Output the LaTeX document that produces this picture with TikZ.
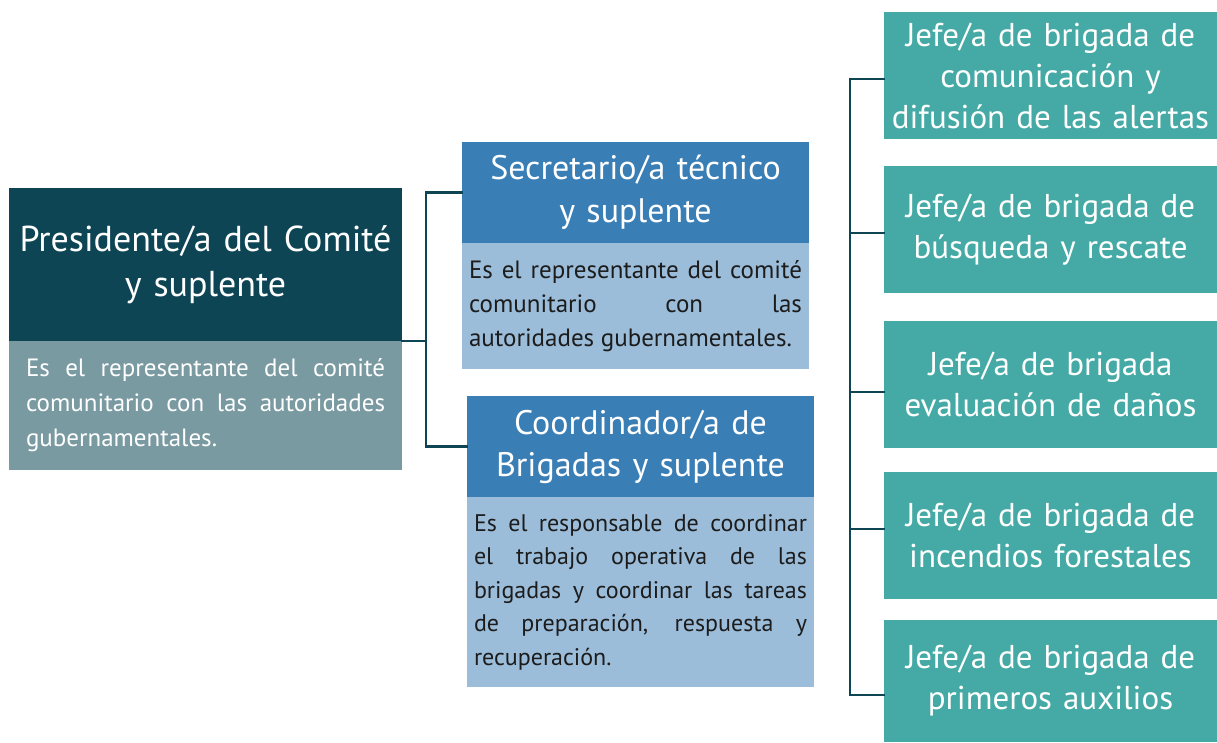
\documentclass[tikz,border=0pt]{standalone}
\usepackage{fontspec}
\setmainfont{PT Sans}
\definecolor{darkteal}{HTML}{0E4555}
\definecolor{greyteal}{HTML}{7A9AA2}
\definecolor{hblue}{HTML}{3A7EB6}
\definecolor{lblue}{HTML}{9BBDDA}
\definecolor{jteal}{HTML}{45AAA5}
\definecolor{btext}{HTML}{1C1C1C}
\begin{document}
\begin{tikzpicture}[x=1pt,y=-1pt,
  box/.style={anchor=north west, inner sep=0pt, outer sep=0pt},
  hdr/.style={box, text=white, align=center},
  jbox/.style={box, fill=jteal, text=white, align=center, minimum width=333pt, text width=327pt, font=\fontsize{33}{41}\selectfont},
  bdy/.style={box, align=justify, execute at begin node={\hyphenpenalty=10000\tolerance=10000\hbadness=10000\hfuzz=20pt}},
  conn/.style={draw=darkteal, line width=2.5pt, line cap=rect, line join=miter}]
\fill[white] (0,0) rectangle (1217,742);
\useasboundingbox (0,0) rectangle (1217,742);
% President
\node[hdr, fill=darkteal, minimum width=393pt, text width=389pt, minimum height=153pt, font=\fontsize{36}{45}\selectfont] (pres) at (9,188) {Presidente/a del Comité\\y suplente};
\node[bdy, fill=greyteal, text=white, inner xsep=17pt, text width=359pt, minimum height=129pt, font=\fontsize{25}{35}\selectfont] (presb) at (9,341) {Es el representante del comité\linebreak comunitario con las autoridades\linebreak gubernamentales.};
% Secretario
\node[hdr, fill=hblue, minimum width=347pt, text width=343pt, minimum height=101pt, font=\fontsize{34}{43}\selectfont] (sec) at (462,142) {Secretario/a técnico\\y suplente};
\node[bdy, fill=lblue, text=btext, inner xsep=7pt, text width=333pt, minimum height=126pt, font=\fontsize{25}{34}\selectfont] (secb) at (462,243) {Es el representante del comité\linebreak comunitario con las\linebreak autoridades gubernamentales.};
% Coordinador
\node[hdr, fill=hblue, minimum width=347pt, text width=343pt, minimum height=101pt, font=\fontsize{34}{42}\selectfont] (coord) at (467,396) {Coordinador/a de\\Brigadas y suplente};
\node[bdy, fill=lblue, text=btext, inner xsep=7pt, text width=333pt, minimum height=190pt, font=\fontsize{24}{33.5}\selectfont] (coordb) at (467,497) {Es el responsable de coordinar\linebreak el trabajo operativa de las\linebreak brigadas y coordinar las tareas\linebreak de preparación, respuesta y\linebreak recuperación.};
% Jefes
\node[jbox, minimum height=127pt] (j1) at (884,12) {Jefe/a de brigada de\\comunicación y\\difusión de las alertas};
\node[jbox, minimum height=127pt] (j2) at (884,166) {Jefe/a de brigada de\\búsqueda y rescate};
\node[jbox, minimum height=127pt] (j3) at (884,321) {Jefe/a de brigada\\evaluación de daños};
\node[jbox, minimum height=127pt] (j4) at (884,472) {Jefe/a de brigada de\\incendios forestales};
\node[jbox, minimum height=122pt] (j5) at (884,620) {Jefe/a de brigada de\\primeros auxilios};
% Connectors left
\coordinate (bus1) at (426,341);
\draw[conn] (pres.south east) -- (bus1);
\draw[conn] (sec.west) -| (bus1);
\draw[conn] (coord.west) -| (bus1);
% Connectors right
\coordinate (b1) at (850,79);
\coordinate (b2) at (850,233);
\coordinate (b3) at (850,392);
\coordinate (b4) at (850,529);
\coordinate (b5) at (850,695);
\draw[conn] (b1) -- (b5);
\draw[conn] (b1) -- (b1 -| j1.west);
\draw[conn] (b2) -- (b2 -| j2.west);
\draw[conn] (b3) -- (b3 -| j3.west);
\draw[conn] (b4) -- (b4 -| j4.west);
\draw[conn] (b5) -- (b5 -| j5.west);
\end{tikzpicture}
\end{document}
